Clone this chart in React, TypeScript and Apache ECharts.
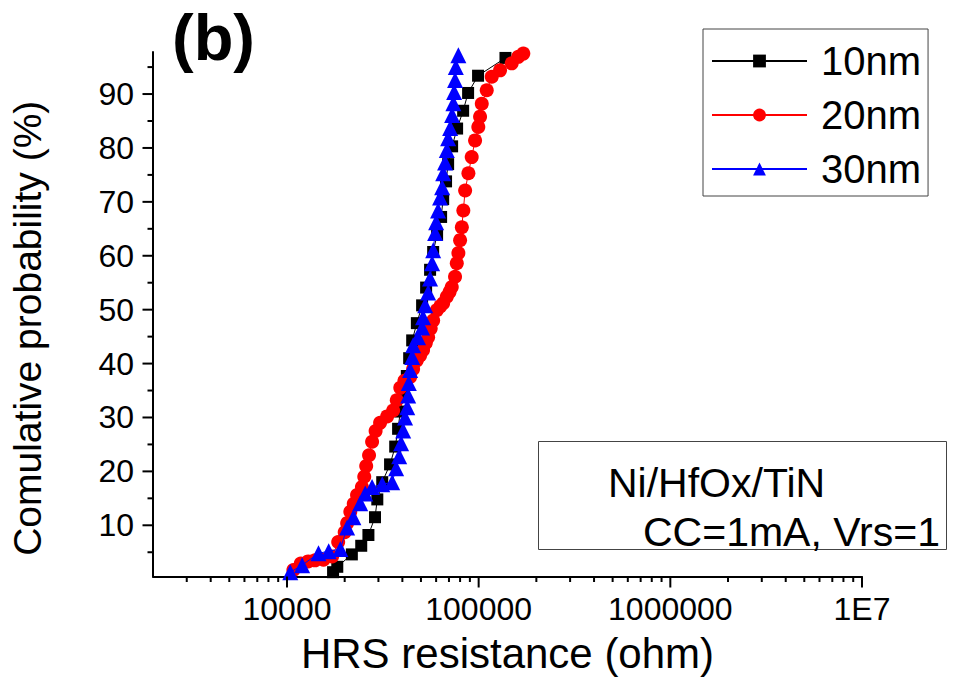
import React, { useEffect, useRef } from 'react';
import * as echarts from 'echarts';

const FONT = '"Liberation Sans", Arial, sans-serif';

const X_MIN = 2000;
const X_MAX = 10000000;
const Y_MIN = 0.5;
const Y_MAX = 97.8;

const xMajorTicks = [10000, 100000, 1000000, 10000000];
const xMinorTicks = [
  3000, 4000, 5000, 6000, 7000, 8000, 9000,
  20000, 30000, 40000, 50000, 60000, 70000, 80000, 90000,
  200000, 300000, 400000, 500000, 600000, 700000, 800000, 900000,
  2000000, 3000000, 4000000, 5000000, 6000000, 7000000, 8000000, 9000000,
];
const yMajorTicks = [10, 20, 30, 40, 50, 60, 70, 80, 90];
const yMinorTicks = [5, 15, 25, 35, 45, 55, 65, 75, 85, 95];

const seriesNames = ['10nm', '20nm', '30nm'];

// 10nm (black squares)
const r10 = [17400, 18300, 21800, 24400, 26600, 28800, 29600, 31400, 34500, 36700, 38000, 39000, 40400, 42200, 43400, 45000, 47600, 50700, 53200, 55800, 57900, 60700, 63700, 65300, 67600, 69300, 72700, 77200, 83000, 88100, 99300, 138000];
const p10 = [1.3, 2.3, 4.6, 6.2, 8.2, 11.5, 14.8, 18.0, 21.3, 24.6, 27.9, 31.1, 34.4, 37.7, 41.0, 44.3, 47.5, 50.8, 54.1, 57.4, 60.7, 63.9, 67.2, 70.5, 73.8, 77.0, 80.3, 83.6, 86.9, 90.2, 93.4, 96.7];

// 20nm (red circles)
const r20 = [10800, 11800, 12900, 14000, 15500, 17200, 18500, 20000, 20600, 21400, 22300, 23200, 24600, 25300, 25900, 26800, 27800, 29000, 30600, 33300, 35800, 37400, 39000, 41000, 43900, 45500, 47600, 49500, 51300, 53000, 54500, 56200, 57900, 60500, 63000, 65300, 68200, 70500, 72400, 75300, 76900, 78400, 80000, 81700, 83200, 85000, 88400, 92000, 95800, 99600, 101700, 103800, 110200, 117000, 129300, 148800, 161000, 171000];
const p20 = [1.7, 2.9, 3.3, 3.5, 3.6, 4.2, 6.9, 8.7, 10.4, 12.5, 14.0, 15.6, 17.1, 19.0, 21.0, 23.0, 25.5, 27.5, 29.0, 30.2, 31.3, 33.2, 35.5, 36.8, 37.5, 39.0, 40.6, 41.5, 42.5, 43.8, 44.9, 46.5, 48.0, 49.9, 50.6, 51.2, 52.4, 53.3, 54.2, 56.1, 58.6, 60.5, 62.9, 65.3, 68.4, 72.1, 75.3, 78.3, 81.4, 83.9, 85.8, 88.2, 90.7, 93.2, 94.4, 95.7, 96.9, 97.5];

// 30nm (blue triangles)
const r30 = [10400, 12000, 14600, 16500, 19000, 20600, 22200, 24100, 25600, 27800, 31400, 35400, 37100, 38500, 39400, 40400, 41300, 42400, 42900, 43200, 43900, 45000, 45500, 48300, 50700, 51300, 52600, 54500, 55800, 57200, 57900, 59300, 60000, 61400, 62900, 64500, 65300, 66800, 68200, 69300, 71000, 72700, 73800, 74500, 75300, 76000, 78400];
const p30 = [1.3, 2.6, 4.8, 5.2, 5.6, 9.6, 11.5, 14.1, 15.9, 17.1, 17.6, 18.0, 20.6, 22.8, 25.2, 27.6, 30.0, 31.9, 34.1, 36.4, 38.8, 41.2, 43.4, 44.9, 46.7, 48.6, 50.8, 53.2, 55.8, 58.6, 61.0, 64.2, 66.2, 68.4, 70.8, 72.7, 75.3, 77.3, 79.6, 81.8, 83.7, 86.1, 88.3, 90.4, 92.6, 95.0, 97.2];

const zip = (xs: number[], ys: number[]) => xs.map((x, i) => [x, ys[i]]);

function tickSeries(values: number[], axis: 'x' | 'y', len: number) {
  return {
    type: 'custom',
    silent: true,
    clip: false,
    z: 5,
    data: values.map((v) => (axis === 'x' ? [v, Y_MIN] : [X_MIN, v])),
    encode: { x: 0, y: 1 },
    renderItem: (_params: any, api: any) => {
      const p = api.coord([api.value(0), api.value(1)]);
      const shape =
        axis === 'x'
          ? { x1: p[0], y1: p[1], x2: p[0], y2: p[1] + len }
          : { x1: p[0], y1: p[1], x2: p[0] - len, y2: p[1] };
      return { type: 'line', shape, style: { stroke: '#000', lineWidth: 2 } };
    },
  };
}

export default function App() {
  const ref = useRef<HTMLDivElement>(null);

  useEffect(() => {
    if (!ref.current) return;
    const chart = echarts.init(ref.current, undefined, { renderer: 'svg' });
    const option: any = {
      animation: false,
      backgroundColor: '#fff',
      textStyle: { fontFamily: FONT },
      grid: { left: 153, right: 98, top: 52, bottom: 100.5, containLabel: false, outerBoundsMode: 'none' },
      legend: {
        data: seriesNames,
        orient: 'vertical',
        left: 703,
        top: 29,
        itemWidth: 95,
        itemHeight: 16,
        itemGap: 14,
        padding: [12, 7, 7, 8],
        borderColor: '#444',
        borderWidth: 1,
        backgroundColor: '#fff',
        textStyle: { fontSize: 40, color: '#000', fontFamily: FONT, padding: [0, 0, 0, 9] },
      },
      xAxis: {
        type: 'log',
        logBase: 10,
        min: X_MIN,
        max: X_MAX,
        name: 'HRS resistance (ohm)',
        nameLocation: 'middle',
        nameGap: 56,
        nameTextStyle: { fontSize: 42, color: '#000', fontFamily: FONT },
        axisLine: { onZero: false, lineStyle: { color: '#000', width: 2 } },
        axisTick: { show: false },
        minorTick: { show: false },
        splitLine: { show: false },
        axisLabel: {
          fontSize: 32,
          color: '#000',
          fontFamily: FONT,
          margin: 16,
          showMinLabel: false,
          formatter: (v: number) => {
            const r = Math.round(v);
            if (r === 10000000) return '1E7';
            if (xMajorTicks.indexOf(r) >= 0) return String(r);
            return '';
          },
        },
      },
      yAxis: {
        type: 'value',
        min: Y_MIN,
        max: Y_MAX,
        splitNumber: 10,
        name: 'Comulative probability (%)',
        nameLocation: 'middle',
        nameGap: 106,
        nameTextStyle: { fontSize: 39, color: '#000', fontFamily: FONT, padding: [0, 28, 0, 0] },
        axisLine: { onZero: false, lineStyle: { color: '#000', width: 2 } },
        axisTick: { show: false },
        splitLine: { show: false },
        axisLabel: {
          fontSize: 32,
          color: '#000',
          fontFamily: FONT,
          margin: 19,
          showMinLabel: false,
          showMaxLabel: false,
          formatter: (v: number) => {
            const r = Math.round(v);
            return Math.abs(v - r) < 1e-6 && yMajorTicks.indexOf(r) >= 0 ? String(r) : '';
          },
        },
      },
      series: [
        tickSeries(xMajorTicks, 'x', 11),
        tickSeries(xMinorTicks, 'x', 5.5),
        tickSeries(yMajorTicks, 'y', 10.5),
        tickSeries(yMinorTicks, 'y', 5.5),
        {
          name: seriesNames[0],
          type: 'line',
          data: zip(r10, p10),
          symbol: 'rect',
          symbolSize: 12,
          itemStyle: { color: '#000' },
          lineStyle: { color: '#000', width: 1 },
          z: 2,
        },
        {
          name: seriesNames[1],
          type: 'line',
          data: zip(r20, p20),
          symbol: 'circle',
          symbolSize: 14,
          itemStyle: { color: '#ff0000' },
          lineStyle: { color: '#ff0000', width: 1 },
          z: 3,
        },
        {
          name: seriesNames[2],
          type: 'line',
          data: zip(r30, p30),
          symbol: 'triangle',
          symbolSize: 16,
          itemStyle: { color: '#0000ff' },
          lineStyle: { color: '#0000ff', width: 1 },
          z: 4,
        },
      ],
      graphic: [
        {
          type: 'text',
          left: 172,
          top: 5,
          style: { text: '(b)', fontSize: 65, fontWeight: 'bold', fill: '#000', fontFamily: FONT },
        },
        {
          type: 'rect',
          shape: { x: 538.5, y: 441.5, width: 408, height: 108 },
          style: { fill: '#fff', stroke: '#444', lineWidth: 1 },
          z: 10,
        },
        {
          type: 'text',
          x: 608,
          y: 483,
          style: { text: 'Ni/HfOx/TiN', fontSize: 41, fill: '#000', fontFamily: FONT, textVerticalAlign: 'middle' },
          z: 11,
        },
        {
          type: 'text',
          x: 643,
          y: 532,
          style: { text: 'CC=1mA, Vrs=1', fontSize: 41, fill: '#000', fontFamily: FONT, textVerticalAlign: 'middle' },
          z: 11,
        },
      ],
    };
    chart.setOption(option);
    return () => chart.dispose();
  }, []);

  return <div ref={ref} style={{ position: 'absolute', left: 0, top: 0, width: 960, height: 677 }} />;
}
